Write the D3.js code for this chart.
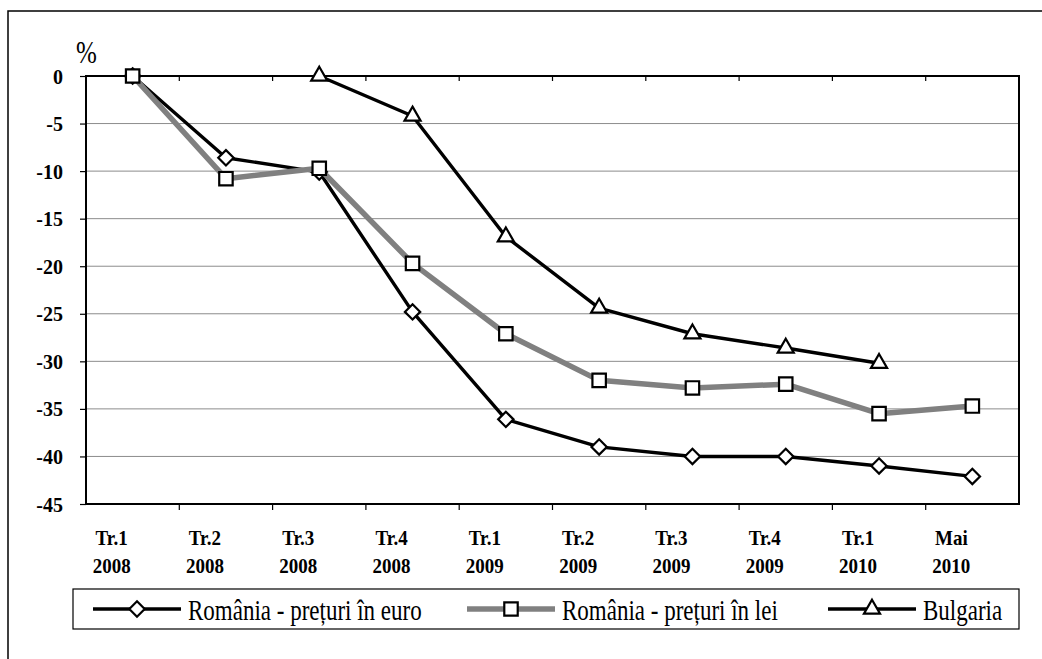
<!DOCTYPE html>
<meta charset="utf-8">
<style>
  body { margin: 0; background: #fff; }
  .grid line { stroke: #8c8c8c; stroke-width: 1; }
</style>
<svg width="1042" height="659"></svg>
<script src="https://cdnjs.cloudflare.com/ajax/libs/d3/7.8.5/d3.min.js"></script>
<script>

// categories (two-line labels)
var periods = ["Tr.1", "Tr.2", "Tr.3", "Tr.4", "Tr.1", "Tr.2", "Tr.3", "Tr.4", "Tr.1", "Mai"];
var years   = ["2008", "2008", "2008", "2008", "2009", "2009", "2009", "2009", "2010", "2010"];

// series values, %
var roEuro = [0, -8.6, -10.1, -24.8, -36.1, -39.0, -40.0, -40.0, -41.0, -42.1];
var roLei  = [0, -10.8, -9.7, -19.7, -27.1, -32.0, -32.8, -32.4, -35.5, -34.7];
var bulg   = [null, null, 0, -4.2, -16.9, -24.4, -27.1, -28.6, -30.2, null];

var yTicks = [0, -5, -10, -15, -20, -25, -30, -35, -40, -45];

var seriesNames = ["România - prețuri în euro", "România - prețuri în lei", "Bulgaria"];

var serif = "'Liberation Serif', 'Times New Roman', serif";
var svg = d3.select("svg");

var pLeft = 86, pRight = 1019, pTop = 76, pBottom = 504;
var idx = d3.range(periods.length);

var x = d3.scaleBand().domain(idx).range([pLeft, pRight]);
var bw = x.bandwidth();
var px = function(i) { return x(i) + bw / 2; };
var y = d3.scaleLinear().domain([-45, 0]).range([pBottom, pTop]);

// outer frame (runs off the right and bottom edges)
svg.append("rect")
    .attr("x", 8).attr("y", 11)
    .attr("width", 1100).attr("height", 700)
    .attr("fill", "none").attr("stroke", "#000").attr("stroke-width", 1.5);

// gridlines
svg.append("g").attr("class", "grid")
  .selectAll("line")
  .data(yTicks.filter(function(v) { return v !== 0 && v !== -45; }))
  .enter().append("line")
    .attr("x1", pLeft).attr("x2", pRight)
    .attr("y1", function(d) { return y(d); })
    .attr("y2", function(d) { return y(d); });

// y axis
var yAxis = svg.append("g")
    .attr("transform", "translate(" + pLeft + ",0)")
    .call(d3.axisLeft(y).tickValues(yTicks).tickSize(6).tickPadding(0)
      .tickFormat(function(d) { return d; }));
yAxis.select(".domain").remove();
yAxis.selectAll(".tick line").attr("stroke", "#000").attr("stroke-width", 1.2);
yAxis.selectAll(".tick text")
    .attr("x", null).attr("dy", null)
    .attr("transform", "translate(-23,7) scale(1,1.1)")
    .attr("fill", "#000")
    .style("font-family", serif).style("font-weight", "bold").style("font-size", "20px");

// plot frame
svg.append("rect")
    .attr("x", pLeft).attr("y", pTop)
    .attr("width", pRight - pLeft).attr("height", pBottom - pTop)
    .attr("fill", "none").attr("stroke", "#000").attr("stroke-width", 2);

// category ticks (top, inside; bottom, outside)
var bounds = idx.slice(1);
svg.append("g").selectAll("line").data(bounds).enter().append("line")
    .attr("x1", function(i) { return x(i); }).attr("x2", function(i) { return x(i); })
    .attr("y1", pTop).attr("y2", pTop + 5)
    .attr("stroke", "#000").attr("stroke-width", 1.2);
svg.append("g").selectAll("line").data(bounds).enter().append("line")
    .attr("x1", function(i) { return x(i); }).attr("x2", function(i) { return x(i); })
    .attr("y1", pBottom).attr("y2", pBottom + 6)
    .attr("stroke", "#000").attr("stroke-width", 1.2);

// x labels
var xl = svg.append("g")
  .selectAll("text").data(idx).enter().append("text")
    .attr("text-anchor", "middle")
    .style("font-family", serif).style("font-weight", "bold").style("font-size", "19px")
    .attr("transform", function(i) { return "translate(" + (px(i) - 21) + ",545) scale(1,1.12)"; });
xl.append("tspan").attr("x", 0).attr("y", 0).text(function(i) { return periods[i]; });
xl.append("tspan").attr("x", 0).attr("y", 25).text(function(i) { return years[i]; });

// "%" label
svg.append("text")
    .attr("transform", "translate(76,63) scale(1,1.3)")
    .style("font-family", serif).style("font-size", "25px")
    .text("%");

// markers
var diamond = d3.symbol().type(d3.symbolDiamond2).size(150);
var square  = d3.symbol().type(d3.symbolSquare2).size(230);
var triangle = d3.symbol().type(d3.symbolTriangle2).size(185);

var series = [
  { values: roEuro, color: "#000", width: 3.4, sym: diamond },
  { values: roLei,  color: "#808080", width: 5.5, sym: square },
  { values: bulg,   color: "#000", width: 3.4, sym: triangle }
];

var line = d3.line()
    .defined(function(d) { return d.v !== null; })
    .x(function(d) { return px(d.i); })
    .y(function(d) { return y(d.v); });

series.forEach(function(s) {
  var pts = s.values.map(function(v, i) { return { i: i, v: v }; });
  var g = svg.append("g");
  g.append("path")
      .attr("d", line(pts))
      .attr("fill", "none")
      .attr("stroke", s.color)
      .attr("stroke-width", s.width)
      .attr("stroke-linejoin", "round");
  g.selectAll("path.m").data(pts.filter(function(d) { return d.v !== null; }))
    .enter().append("path").attr("class", "m")
      .attr("d", s.sym)
      .attr("transform", function(d) { return "translate(" + px(d.i) + "," + y(d.v) + ")"; })
      .attr("fill", "#fff").attr("stroke", "#000").attr("stroke-width", 2.2);
});

// legend
var lg = svg.append("g");
lg.append("rect")
    .attr("x", 73).attr("y", 589).attr("width", pRight - 73).attr("height", 40)
    .attr("fill", "#fff").attr("stroke", "#000").attr("stroke-width", 1.2);

var legX = [93, 467, 828];
series.forEach(function(s, k) {
  var g = lg.append("g").attr("transform", "translate(" + legX[k] + ",609)");
  g.append("line").attr("x1", 0).attr("x2", 88).attr("y1", 0).attr("y2", 0)
      .attr("stroke", s.color).attr("stroke-width", s.width);
  g.append("path").attr("d", s.sym).attr("transform", "translate(44,0)")
      .attr("fill", "#fff").attr("stroke", "#000").attr("stroke-width", 2.2);
  g.append("text")
      .attr("transform", "translate(95,11) scale(1,1.32)")
      .style("font-family", serif).style("font-size", "23px")
      .text(seriesNames[k]);
});

</script>
